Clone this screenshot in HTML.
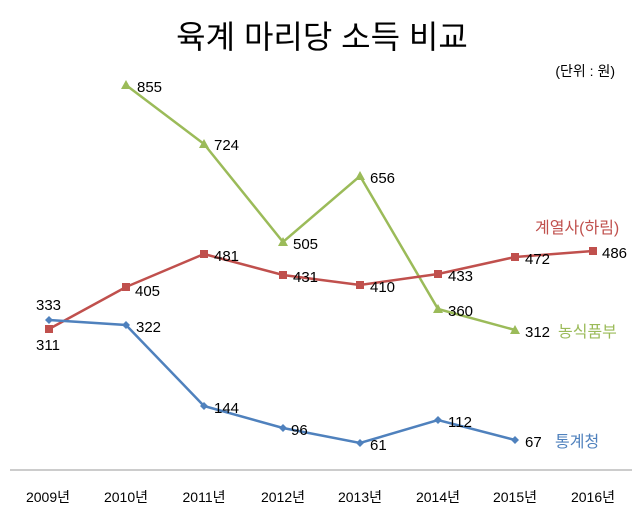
<!DOCTYPE html>
<html><head><meta charset="utf-8"><style>
body{margin:0;background:#fff;}
svg text{font-family:"Liberation Sans","Noto Sans CJK KR",sans-serif;}
</style></head><body>
<svg width="643" height="517" viewBox="0 0 643 517" xmlns="http://www.w3.org/2000/svg">
<rect width="643" height="517" fill="#fff"/>
<text x="322" y="48" font-size="32" text-anchor="middle" fill="#000">육계 마리당 소득 비교</text>
<text x="615" y="76" font-size="14" text-anchor="end" fill="#000">(단위 : 원)</text>
<line x1="10" y1="470" x2="632" y2="470" stroke="#999" stroke-width="1"/>
<g font-size="14" fill="#000" text-anchor="middle">
<text x="48" y="502">2009년</text><text x="126" y="502">2010년</text><text x="204" y="502">2011년</text><text x="283" y="502">2012년</text><text x="360" y="502">2013년</text><text x="438" y="502">2014년</text><text x="515" y="502">2015년</text><text x="593" y="502">2016년</text>
</g>
<polyline fill="none" stroke="#9BBB59" stroke-width="2.5" points="126,85 204,144 283,242 360,176 438,309 515,330"/>
<g fill="#9BBB59">
<polygon points="126,80 131,89 121,89"/><polygon points="204,139 209,148 199,148"/><polygon points="283,237 288,246 278,246"/><polygon points="360,171 365,180 355,180"/><polygon points="438,304 443,313 433,313"/><polygon points="515,325 520,334 510,334"/>
</g>
<polyline fill="none" stroke="#C0504D" stroke-width="2.5" points="49,329 126,287 204,254 283,275 360,285 438,274 515,257 593,251"/>
<g fill="#C0504D">
<rect x="45" y="325" width="8" height="8"/><rect x="122" y="283" width="8" height="8"/><rect x="200" y="250" width="8" height="8"/><rect x="279" y="271" width="8" height="8"/><rect x="356" y="281" width="8" height="8"/><rect x="434" y="270" width="8" height="8"/><rect x="511" y="253" width="8" height="8"/><rect x="589" y="247" width="8" height="8"/>
</g>
<polyline fill="none" stroke="#4F81BD" stroke-width="2.5" points="49,320 126,325 204,406 283,428 360,443 438,420 515,440"/>
<g fill="#4F81BD">
<polygon points="49,316 53,320 49,324 45,320"/><polygon points="126,321 130,325 126,329 122,325"/><polygon points="204,402 208,406 204,410 200,406"/><polygon points="283,424 287,428 283,432 279,428"/><polygon points="360,439 364,443 360,447 356,443"/><polygon points="438,416 442,420 438,424 434,420"/><polygon points="515,436 519,440 515,444 511,440"/>
</g>
<g font-size="15" fill="#000">
<text x="137" y="92">855</text><text x="214" y="150">724</text><text x="293" y="249">505</text><text x="370" y="183">656</text><text x="448" y="316">360</text><text x="525" y="337">312</text>
<text x="36" y="350">311</text><text x="135" y="296">405</text><text x="214" y="261">481</text><text x="293" y="282">431</text><text x="370" y="292">410</text><text x="448" y="281">433</text><text x="525" y="264">472</text><text x="602" y="258">486</text>
<text x="36" y="310">333</text><text x="136" y="332">322</text><text x="214" y="413">144</text><text x="291" y="435">96</text><text x="370" y="450">61</text><text x="448" y="427">112</text><text x="525" y="447">67</text>
</g>
<text x="535" y="233" font-size="16" fill="#C0504D">계열사(하림)</text>
<text x="558" y="337" font-size="16" fill="#9BBB59">농식품부</text>
<text x="555" y="447" font-size="16" fill="#4F81BD">통계청</text>
</svg>
</body></html>
